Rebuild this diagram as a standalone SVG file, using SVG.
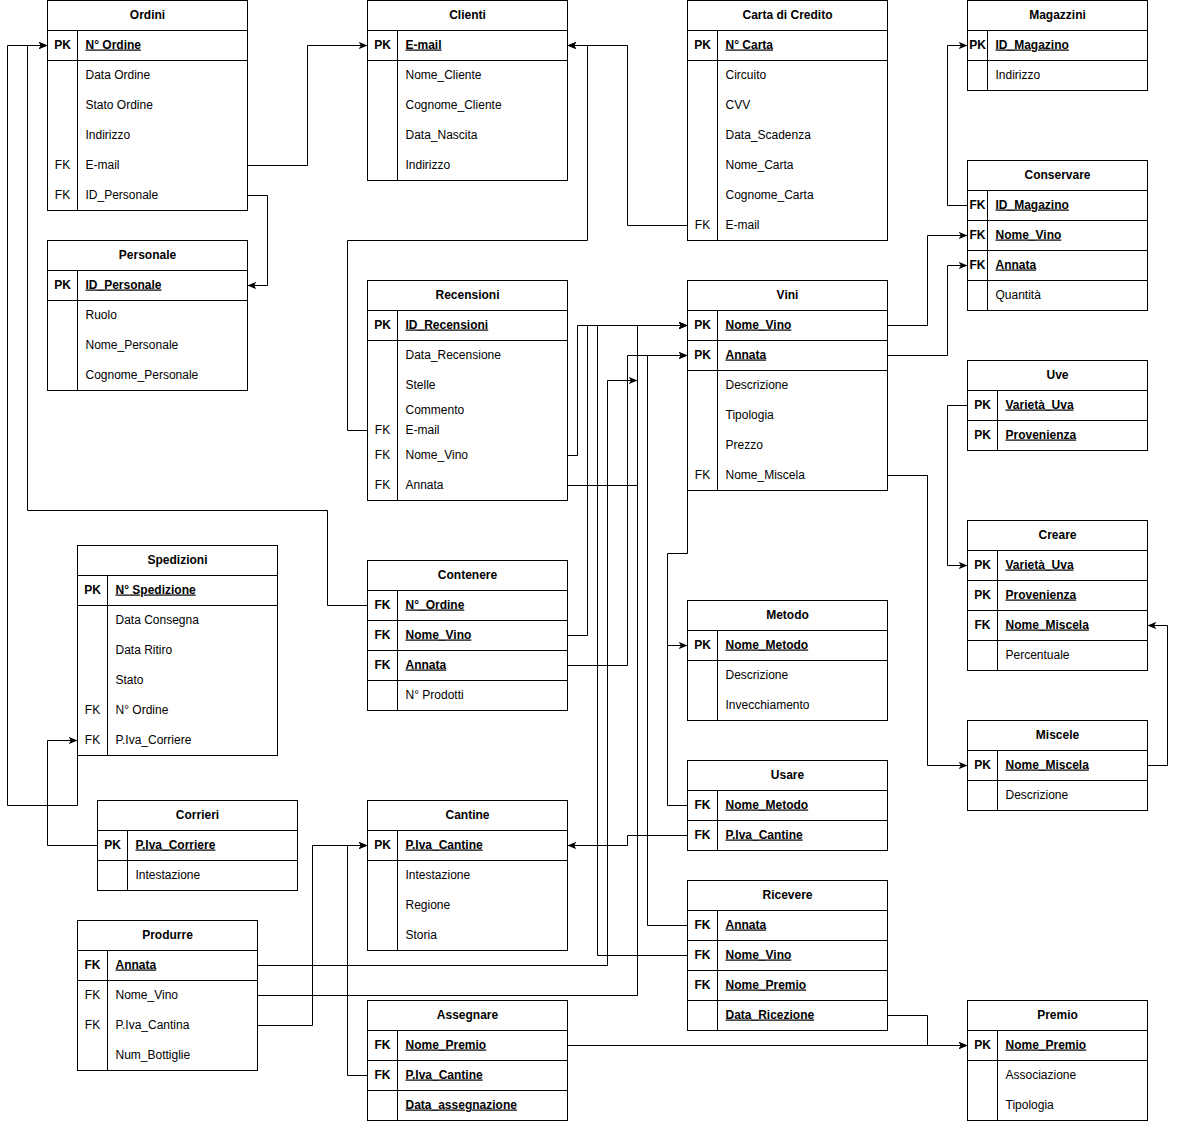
<svg xmlns="http://www.w3.org/2000/svg" width="1177" height="1121" viewBox="0 0 1177 1121">
<style>
rect.b{fill:#fff;stroke:#000;stroke-width:1}
line.s{stroke:#000;stroke-width:1}
text{font-family:"Liberation Sans",Arial,Helvetica,sans-serif;font-size:12px;fill:#000;transform:translate(0px,-1px)}
.h{font-weight:bold;text-anchor:middle}
.k{text-anchor:middle}
.kb{text-anchor:middle;font-weight:bold}
.u{font-weight:bold;text-decoration:underline}
#edges path{fill:none;stroke:#000;stroke-width:1}
</style>
<defs>
<marker id="arr" viewBox="0 0 10 8" refX="10" refY="4" markerWidth="9" markerHeight="7" markerUnits="userSpaceOnUse" orient="auto">
<path d="M0,0 L10,4 L0,8 L2.5,4 Z" fill="#000"/>
</marker>
</defs>
<rect width="1177" height="1121" fill="#fff"/>
<g transform="translate(0.5,0.5)">
<g id="edges">
<path d="M247,165 H307 V45 H367" marker-end="url(#arr)"/>
<path d="M247,195 H267 V285 H247" marker-end="url(#arr)"/>
<path d="M687,225 H627 V45 H567" marker-end="url(#arr)"/>
<path d="M367,430 H347 V240 H587 V45 H567" marker-end="url(#arr)"/>
<path d="M77,755 V805 H7 V45 H47" marker-end="url(#arr)"/>
<path d="M367,605 H327 V510 H27 V45 H47" marker-end="url(#arr)"/>
<path d="M97,845 H47 V740 H77" marker-end="url(#arr)"/>
<path d="M967,205 H947 V45 H967" marker-end="url(#arr)"/>
<path d="M887,325 H927 V235 H967" marker-end="url(#arr)"/>
<path d="M887,355 H947 V265 H967" marker-end="url(#arr)"/>
<path d="M967,405 H947 V565 H967" marker-end="url(#arr)"/>
<path d="M887,475 H927 V765 H967" marker-end="url(#arr)"/>
<path d="M1147,765 H1167 V625 H1147" marker-end="url(#arr)"/>
<path d="M567,455 H577 V325 H687" marker-end="url(#arr)"/>
<path d="M567,635 H587 V325 H687" marker-end="url(#arr)"/>
<path d="M687,955 H597 V325 H687" marker-end="url(#arr)"/>
<path d="M257,995 H637 V325 H687" marker-end="url(#arr)"/>
<path d="M567,485 H637"/>
<path d="M257,965 H607 V380 H637" marker-end="url(#arr)"/>
<path d="M567,665 H627 V355 H687" marker-end="url(#arr)"/>
<path d="M687,925 H647 V355 H687" marker-end="url(#arr)"/>
<path d="M687,490 V553 H667 V645 H687" marker-end="url(#arr)"/>
<path d="M687,805 H667 V645"/>
<path d="M687,835 H627 V845 H567" marker-end="url(#arr)"/>
<path d="M257,1025 H312 V845 H367" marker-end="url(#arr)"/>
<path d="M367,1075 H347 V845 H367" marker-end="url(#arr)"/>
<path d="M567,1045 H967" marker-end="url(#arr)"/>
<path d="M887,1015 H927 V1045 H967" marker-end="url(#arr)"/>
</g>

<g id="ordini">
<rect class="b" x="47" y="0" width="200" height="210"/>
<line class="s" x1="47" y1="30" x2="247" y2="30"/><line class="s" x1="47" y1="60" x2="247" y2="60"/><line class="s" x1="77" y1="30" x2="77" y2="210"/>
<text class="h" x="147" y="19">Ordini</text>
<text class="kb" x="62" y="49">PK</text><text class="u" x="85" y="49">N° Ordine</text>
<text x="85" y="79">Data Ordine</text>
<text x="85" y="109">Stato Ordine</text>
<text x="85" y="139">Indirizzo</text>
<text class="k" x="62" y="169">FK</text><text x="85" y="169">E-mail</text>
<text class="k" x="62" y="199">FK</text><text x="85" y="199">ID_Personale</text>
</g>

<g id="clienti">
<rect class="b" x="367" y="0" width="200" height="180"/>
<line class="s" x1="367" y1="30" x2="567" y2="30"/><line class="s" x1="367" y1="60" x2="567" y2="60"/><line class="s" x1="397" y1="30" x2="397" y2="180"/>
<text class="h" x="467" y="19">Clienti</text>
<text class="kb" x="382" y="49">PK</text><text class="u" x="405" y="49">E-mail</text>
<text x="405" y="79">Nome_Cliente</text>
<text x="405" y="109">Cognome_Cliente</text>
<text x="405" y="139">Data_Nascita</text>
<text x="405" y="169">Indirizzo</text>
</g>

<g id="carta">
<rect class="b" x="687" y="0" width="200" height="240"/>
<line class="s" x1="687" y1="30" x2="887" y2="30"/><line class="s" x1="687" y1="60" x2="887" y2="60"/><line class="s" x1="717" y1="30" x2="717" y2="240"/>
<text class="h" x="787" y="19">Carta di Credito</text>
<text class="kb" x="702" y="49">PK</text><text class="u" x="725" y="49">N° Carta</text>
<text x="725" y="79">Circuito</text>
<text x="725" y="109">CVV</text>
<text x="725" y="139">Data_Scadenza</text>
<text x="725" y="169">Nome_Carta</text>
<text x="725" y="199">Cognome_Carta</text>
<text class="k" x="702" y="229">FK</text><text x="725" y="229">E-mail</text>
</g>

<g id="magazzini">
<rect class="b" x="967" y="0" width="180" height="90"/>
<line class="s" x1="967" y1="30" x2="1147" y2="30"/><line class="s" x1="967" y1="60" x2="1147" y2="60"/><line class="s" x1="987" y1="30" x2="987" y2="90"/>
<text class="h" x="1057" y="19">Magazzini</text>
<text class="kb" x="977" y="49">PK</text><text class="u" x="995" y="49">ID_Magazino</text>
<text x="995" y="79">Indirizzo</text>
</g>

<g id="personale">
<rect class="b" x="47" y="240" width="200" height="150"/>
<line class="s" x1="47" y1="270" x2="247" y2="270"/><line class="s" x1="47" y1="300" x2="247" y2="300"/><line class="s" x1="77" y1="270" x2="77" y2="390"/>
<text class="h" x="147" y="259">Personale</text>
<text class="kb" x="62" y="289">PK</text><text class="u" x="85" y="289">ID_Personale</text>
<text x="85" y="319">Ruolo</text>
<text x="85" y="349">Nome_Personale</text>
<text x="85" y="379">Cognome_Personale</text>
</g>

<g id="conservare">
<rect class="b" x="967" y="160" width="180" height="150"/>
<line class="s" x1="967" y1="190" x2="1147" y2="190"/><line class="s" x1="967" y1="220" x2="1147" y2="220"/><line class="s" x1="967" y1="250" x2="1147" y2="250"/><line class="s" x1="967" y1="280" x2="1147" y2="280"/><line class="s" x1="987" y1="190" x2="987" y2="310"/>
<text class="h" x="1057" y="179">Conservare</text>
<text class="kb" x="977" y="209">FK</text><text class="u" x="995" y="209">ID_Magazino</text>
<text class="kb" x="977" y="239">FK</text><text class="u" x="995" y="239">Nome_Vino</text>
<text class="kb" x="977" y="269">FK</text><text class="u" x="995" y="269">Annata</text>
<text x="995" y="299">Quantità</text>
</g>

<g id="recensioni">
<rect class="b" x="367" y="280" width="200" height="220"/>
<line class="s" x1="367" y1="310" x2="567" y2="310"/><line class="s" x1="367" y1="340" x2="567" y2="340"/><line class="s" x1="397" y1="310" x2="397" y2="500"/>
<text class="h" x="467" y="299">Recensioni</text>
<text class="kb" x="382" y="329">PK</text><text class="u" x="405" y="329">ID_Recensioni</text>
<text x="405" y="359">Data_Recensione</text>
<text x="405" y="389">Stelle</text>
<text x="405" y="414">Commento</text>
<text class="k" x="382" y="434">FK</text><text x="405" y="434">E-mail</text>
<text class="k" x="382" y="459">FK</text><text x="405" y="459">Nome_Vino</text>
<text class="k" x="382" y="489">FK</text><text x="405" y="489">Annata</text>
</g>

<g id="vini">
<rect class="b" x="687" y="280" width="200" height="210"/>
<line class="s" x1="687" y1="310" x2="887" y2="310"/><line class="s" x1="687" y1="340" x2="887" y2="340"/><line class="s" x1="687" y1="370" x2="887" y2="370"/><line class="s" x1="717" y1="310" x2="717" y2="490"/>
<text class="h" x="787" y="299">Vini</text>
<text class="kb" x="702" y="329">PK</text><text class="u" x="725" y="329">Nome_Vino</text>
<text class="kb" x="702" y="359">PK</text><text class="u" x="725" y="359">Annata</text>
<text x="725" y="389">Descrizione</text>
<text x="725" y="419">Tipologia</text>
<text x="725" y="449">Prezzo</text>
<text class="k" x="702" y="479">FK</text><text x="725" y="479">Nome_Miscela</text>
</g>

<g id="uve">
<rect class="b" x="967" y="360" width="180" height="90"/>
<line class="s" x1="967" y1="390" x2="1147" y2="390"/><line class="s" x1="967" y1="420" x2="1147" y2="420"/><line class="s" x1="997" y1="390" x2="997" y2="450"/>
<text class="h" x="1057" y="379">Uve</text>
<text class="kb" x="982" y="409">PK</text><text class="u" x="1005" y="409">Varietà_Uva</text>
<text class="kb" x="982" y="439">PK</text><text class="u" x="1005" y="439">Provenienza</text>
</g>

<g id="creare">
<rect class="b" x="967" y="520" width="180" height="150"/>
<line class="s" x1="967" y1="550" x2="1147" y2="550"/><line class="s" x1="967" y1="580" x2="1147" y2="580"/><line class="s" x1="967" y1="610" x2="1147" y2="610"/><line class="s" x1="967" y1="640" x2="1147" y2="640"/><line class="s" x1="997" y1="550" x2="997" y2="670"/>
<text class="h" x="1057" y="539">Creare</text>
<text class="kb" x="982" y="569">PK</text><text class="u" x="1005" y="569">Varietà_Uva</text>
<text class="kb" x="982" y="599">PK</text><text class="u" x="1005" y="599">Provenienza</text>
<text class="kb" x="982" y="629">FK</text><text class="u" x="1005" y="629">Nome_Miscela</text>
<text x="1005" y="659">Percentuale</text>
</g>

<g id="spedizioni">
<rect class="b" x="77" y="545" width="200" height="210"/>
<line class="s" x1="77" y1="575" x2="277" y2="575"/><line class="s" x1="77" y1="605" x2="277" y2="605"/><line class="s" x1="107" y1="575" x2="107" y2="755"/>
<text class="h" x="177" y="564">Spedizioni</text>
<text class="kb" x="92" y="594">PK</text><text class="u" x="115" y="594">N° Spedizione</text>
<text x="115" y="624">Data Consegna</text>
<text x="115" y="654">Data Ritiro</text>
<text x="115" y="684">Stato</text>
<text class="k" x="92" y="714">FK</text><text x="115" y="714">N° Ordine</text>
<text class="k" x="92" y="744">FK</text><text x="115" y="744">P.Iva_Corriere</text>
</g>

<g id="contenere">
<rect class="b" x="367" y="560" width="200" height="150"/>
<line class="s" x1="367" y1="590" x2="567" y2="590"/><line class="s" x1="367" y1="620" x2="567" y2="620"/><line class="s" x1="367" y1="650" x2="567" y2="650"/><line class="s" x1="367" y1="680" x2="567" y2="680"/><line class="s" x1="397" y1="590" x2="397" y2="710"/>
<text class="h" x="467" y="579">Contenere</text>
<text class="kb" x="382" y="609">FK</text><text class="u" x="405" y="609">N°_Ordine</text>
<text class="kb" x="382" y="639">FK</text><text class="u" x="405" y="639">Nome_Vino</text>
<text class="kb" x="382" y="669">FK</text><text class="u" x="405" y="669">Annata</text>
<text x="405" y="699">N° Prodotti</text>
</g>

<g id="metodo">
<rect class="b" x="687" y="600" width="200" height="120"/>
<line class="s" x1="687" y1="630" x2="887" y2="630"/><line class="s" x1="687" y1="660" x2="887" y2="660"/><line class="s" x1="717" y1="630" x2="717" y2="720"/>
<text class="h" x="787" y="619">Metodo</text>
<text class="kb" x="702" y="649">PK</text><text class="u" x="725" y="649">Nome_Metodo</text>
<text x="725" y="679">Descrizione</text>
<text x="725" y="709">Invecchiamento</text>
</g>

<g id="miscele">
<rect class="b" x="967" y="720" width="180" height="90"/>
<line class="s" x1="967" y1="750" x2="1147" y2="750"/><line class="s" x1="967" y1="780" x2="1147" y2="780"/><line class="s" x1="997" y1="750" x2="997" y2="810"/>
<text class="h" x="1057" y="739">Miscele</text>
<text class="kb" x="982" y="769">PK</text><text class="u" x="1005" y="769">Nome_Miscela</text>
<text x="1005" y="799">Descrizione</text>
</g>

<g id="usare">
<rect class="b" x="687" y="760" width="200" height="90"/>
<line class="s" x1="687" y1="790" x2="887" y2="790"/><line class="s" x1="687" y1="820" x2="887" y2="820"/><line class="s" x1="717" y1="790" x2="717" y2="850"/>
<text class="h" x="787" y="779">Usare</text>
<text class="kb" x="702" y="809">FK</text><text class="u" x="725" y="809">Nome_Metodo</text>
<text class="kb" x="702" y="839">FK</text><text class="u" x="725" y="839">P.Iva_Cantine</text>
</g>

<g id="corrieri">
<rect class="b" x="97" y="800" width="200" height="90"/>
<line class="s" x1="97" y1="830" x2="297" y2="830"/><line class="s" x1="97" y1="860" x2="297" y2="860"/><line class="s" x1="127" y1="830" x2="127" y2="890"/>
<text class="h" x="197" y="819">Corrieri</text>
<text class="kb" x="112" y="849">PK</text><text class="u" x="135" y="849">P.Iva_Corriere</text>
<text x="135" y="879">Intestazione</text>
</g>

<g id="cantine">
<rect class="b" x="367" y="800" width="200" height="150"/>
<line class="s" x1="367" y1="830" x2="567" y2="830"/><line class="s" x1="367" y1="860" x2="567" y2="860"/><line class="s" x1="397" y1="830" x2="397" y2="950"/>
<text class="h" x="467" y="819">Cantine</text>
<text class="kb" x="382" y="849">PK</text><text class="u" x="405" y="849">P.Iva_Cantine</text>
<text x="405" y="879">Intestazione</text>
<text x="405" y="909">Regione</text>
<text x="405" y="939">Storia</text>
</g>

<g id="ricevere">
<rect class="b" x="687" y="880" width="200" height="150"/>
<line class="s" x1="687" y1="910" x2="887" y2="910"/><line class="s" x1="687" y1="940" x2="887" y2="940"/><line class="s" x1="687" y1="970" x2="887" y2="970"/><line class="s" x1="687" y1="1000" x2="887" y2="1000"/><line class="s" x1="717" y1="910" x2="717" y2="1030"/>
<text class="h" x="787" y="899">Ricevere</text>
<text class="kb" x="702" y="929">FK</text><text class="u" x="725" y="929">Annata</text>
<text class="kb" x="702" y="959">FK</text><text class="u" x="725" y="959">Nome_Vino</text>
<text class="kb" x="702" y="989">FK</text><text class="u" x="725" y="989">Nome_Premio</text>
<text class="u" x="725" y="1019">Data_Ricezione</text>
</g>

<g id="produrre">
<rect class="b" x="77" y="920" width="180" height="150"/>
<line class="s" x1="77" y1="950" x2="257" y2="950"/><line class="s" x1="77" y1="980" x2="257" y2="980"/><line class="s" x1="107" y1="950" x2="107" y2="1070"/>
<text class="h" x="167" y="939">Produrre</text>
<text class="kb" x="92" y="969">FK</text><text class="u" x="115" y="969">Annata</text>
<text class="k" x="92" y="999">FK</text><text x="115" y="999">Nome_Vino</text>
<text class="k" x="92" y="1029">FK</text><text x="115" y="1029">P.Iva_Cantina</text>
<text x="115" y="1059">Num_Bottiglie</text>
</g>

<g id="assegnare">
<rect class="b" x="367" y="1000" width="200" height="120"/>
<line class="s" x1="367" y1="1030" x2="567" y2="1030"/><line class="s" x1="367" y1="1060" x2="567" y2="1060"/><line class="s" x1="367" y1="1090" x2="567" y2="1090"/><line class="s" x1="397" y1="1030" x2="397" y2="1120"/>
<text class="h" x="467" y="1019">Assegnare</text>
<text class="kb" x="382" y="1049">FK</text><text class="u" x="405" y="1049">Nome_Premio</text>
<text class="kb" x="382" y="1079">FK</text><text class="u" x="405" y="1079">P.Iva_Cantine</text>
<text class="u" x="405" y="1109">Data_assegnazione</text>
</g>

<g id="premio">
<rect class="b" x="967" y="1000" width="180" height="120"/>
<line class="s" x1="967" y1="1030" x2="1147" y2="1030"/><line class="s" x1="967" y1="1060" x2="1147" y2="1060"/><line class="s" x1="997" y1="1030" x2="997" y2="1120"/>
<text class="h" x="1057" y="1019">Premio</text>
<text class="kb" x="982" y="1049">PK</text><text class="u" x="1005" y="1049">Nome_Premio</text>
<text x="1005" y="1079">Associazione</text>
<text x="1005" y="1109">Tipologia</text>
</g>
</g>
</svg>
